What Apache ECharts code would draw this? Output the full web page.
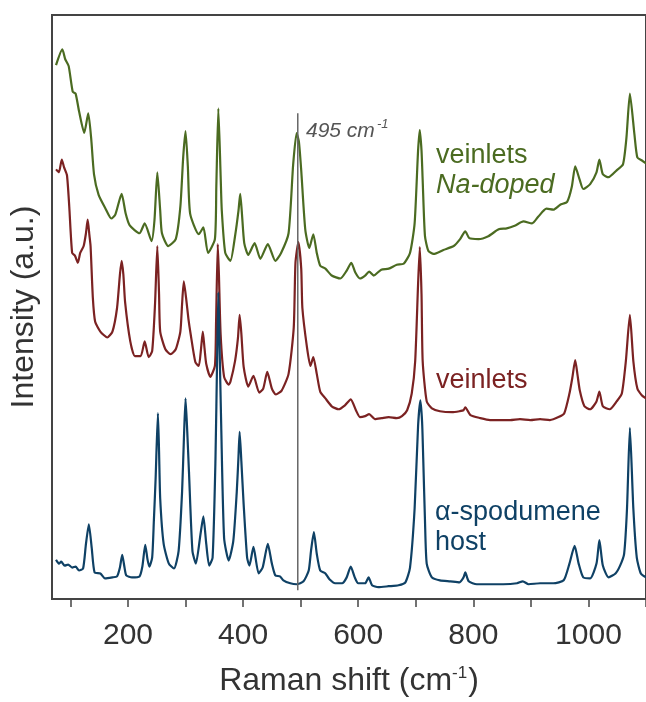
<!DOCTYPE html>
<html>
<head>
<meta charset="utf-8">
<script src="https://cdn.jsdelivr.net/npm/echarts@6/dist/echarts.min.js"></script>
<style>
  html, body { margin: 0; padding: 0; background: #fff; }
  #chart { width: 646px; height: 702px; }
</style>
</head>
<body>
<div id="chart"></div>
<script>
// spectra: [Raman shift (cm-1), offset intensity (a.u.)]
const naDopedSpectrum = [
  [75,543],[86,559],[91,549],[97,542],[104,516],[109,514],[115,496],[124,474],[131,494],[136,469],
  [141,432],[149,411],[161,397],[171,387],[178,391],[189,412],[196,392],[203,380],[220,372],[229,382],
  [241,364],[246,385],[251,434],[256,395],[259,372],[270,359],[283,366],[291,399],[296,450],[300,476],
  [304,440],[308,392],[323,371],[331,378],[339,352],[351,366],[353.5,420],[357,499],[361,430],[363,395],
  [369,352],[378,344],[386,369],[392,395],[395,412],[398,392],[402,362],[409,350],[420,362],[430,346],
  [443,361],[456,344],[466,352],[479,372],[487,442],[493,474],[497,465],[501,436],[508,376],[515,357],
  [522,371],[528,352],[534,339],[543,336],[554,329],[569,326],[580,334],[588,342],[595,332],[603,326],
  [612,329],[619,333],[627,329],[640,335],[653,336],[667,340],[679,341],[690,352],[698,382],[704,456],
  [707,477],[710,456],[712,426],[716,369],[722,354],[731,351],[748,355],[766,359],[777,366],[786,374],
  [793,367],[809,366],[826,369],[844,376],[858,377],[873,380],[887,384],[902,382],[913,389],[927,397],
  [939,396],[951,401],[963,404],[971,419],[977,440],[985,426],[991,417],[1003,422],[1014,434],[1019,447],
  [1025,432],[1035,429],[1049,436],[1060,442],[1066,469],[1072,514],[1080,472],[1085,449],[1093,446],[1100,443]
];

const veinletsSpectrum = [
  [75,437],[80,434],[85,447],[89,439],[94,431],[98,399],[103,352],[108,349],[113,342],[117,352],
  [123,359],[127,372],[130,386],[133,370],[135,359],[139,306],[143,282],[152,272],[164,266],[173,272],
  [181,296],[186,330],[189,344],[192,330],[195,302],[204,262],[212,247],[222,247],[229,262],[236,246],
  [242,252],[247,300],[251,359],[254,310],[256,272],[265,254],[274,249],[283,254],[291,272],[294,300],
  [297,323],[301,306],[305,285],[309,269],[317,241],[323,237],[327,255],[330,272],[333,255],[336,239],
  [343,226],[351,237],[353,280],[356,361],[358,330],[361,269],[367,226],[375,218],[378,221],[386,242],
  [391,265],[394,289],[397,270],[401,236],[409,216],[418,227],[428,210],[435,214],[442,231],[450,214],
  [457,208],[467,212],[479,229],[488,276],[491,342],[496,363],[501,336],[503,296],[511,256],[517,237],
  [522,246],[528,229],[534,211],[543,204],[554,196],[566,193],[577,197],[587,203],[596,192],[603,185],
  [612,186],[619,188],[629,183],[641,184],[653,185],[667,184],[676,186],[685,192],[693,209],[699,242],
  [704,320],[707,358],[710,310],[712,242],[719,201],[728,194],[742,191],[763,190],[776,191],[783,192],
  [786,195],[795,187],[812,184],[829,182],[847,182],[864,182],[881,183],[899,182],[916,183],[933,182],
  [948,185],[958,189],[967,209],[972,225],[977,243],[981,228],[985,212],[993,196],[1003,193],[1014,201],
  [1019,211],[1025,196],[1037,193],[1049,201],[1058,209],[1065,242],[1072,289],[1078,242],[1085,214],
  [1093,207],[1100,204]
];

const hostSpectrum = [
  [75,40],[80,36],[84,38],[90,34],[96,35],[103,32],[109,33],[115,29],[122,31],[127,56],
  [132,76],[137,52],[142,27],[152,26],[160,21],[173,22],[181,23],[186,32],[190,45],[194,32],
  [197,24],[207,22],[220,23],[225,33],[230,55],[234,40],[237,33],[242,42],[245,80],[248,122],
  [252,189],[254,150],[256,102],[262,56],[271,36],[280,31],[288,49],[294,109],[297,160],[300,204],
  [303,170],[306,129],[312,49],[318,36],[326,66],[331,84],[336,56],[341,34],[347,42],[352,142],
  [355,250],[357,312],[359,260],[362,176],[367,62],[375,39],[383,59],[389,109],[392,145],[394,170],
  [397,140],[401,96],[407,42],[411,34],[418,53],[427,26],[434,32],[443,56],[450,36],[456,24],
  [464,23],[470,19],[482,16],[493,15],[505,18],[514,29],[518,49],[523,68],[528,46],[534,29],
  [543,26],[550,20],[560,16],[572,16],[580,22],[587,33],[594,22],[600,16],[612,16],[618,22],
  [624,14],[635,12],[653,13],[670,14],[682,17],[690,32],[698,92],[704,176],[708,202],[711,180],
  [713,142],[716,80],[719,36],[728,22],[742,19],[760,18],[776,17],[783,22],[786,27],[792,18],
  [806,15],[829,15],[852,15],[876,16],[886,18],[896,15],[916,16],[939,16],[957,19],[967,36],
  [976,54],[983,36],[991,22],[1003,21],[1014,36],[1019,60],[1025,34],[1035,22],[1047,26],[1055,34],
  [1062,46],[1067,92],[1072,174],[1078,92],[1084,42],[1091,26],[1100,22]
];

// marker line at 495 cm-1
const markerLine = [[495, 9], [495, 494]];

const tickValues = [100, 200, 300, 400, 500, 600, 700, 800, 900, 1000, 1100];
const labelValues = [200, 400, 600, 800, 1000];

const FONT = '"Liberation Sans", Arial, sans-serif';
const GREEN = '#4b6b21';
const RED = '#7b2222';
const BLUE = '#0f4165';

const chart = echarts.init(document.getElementById('chart'));

function spectrum(name, data, color) {
  return {
    name: name,
    type: 'line',
    data: data,
    symbol: 'none',
    smooth: 0.2,
    lineStyle: { color: color, width: 2.2 },
    animation: false
  };
}

const option = {
  animation: false,
  textStyle: { fontFamily: FONT },
  grid: {
    show: true,
    borderColor: '#444',
    borderWidth: 2,
    left: 52,
    right: 0,
    top: 15,
    bottom: 93
  },
  xAxis: {
    type: 'value',
    min: 68,
    max: 1100,
    name: 'Raman shift (cm{sup|-1})',
    nameLocation: 'middle',
    nameGap: 66,
    nameTextStyle: {
      fontSize: 32, color: '#333', fontFamily: FONT,
      rich: {
        sup: { fontSize: 17, color: '#333', fontFamily: FONT, verticalAlign: 'top', padding: [0, 1, 14, 0] }
      }
    },
    axisLine: { show: true, lineStyle: { color: '#444', width: 2 } },
    axisTick: {
      show: true,
      length: 8,
      customValues: tickValues,
      lineStyle: { color: '#444', width: 1.5 }
    },
    axisLabel: {
      customValues: labelValues,
      formatter: function (v) { return String(v) },
      fontSize: 30,
      color: '#333',
      margin: 22,
      fontFamily: FONT
    },
    splitLine: { show: false }
  },
  yAxis: {
    type: 'value',
    min: 0,
    max: 594,
    name: 'Intensity (a.u.)',
    nameLocation: 'middle',
    nameGap: 12,
    nameTextStyle: { fontSize: 32, color: '#333', fontFamily: FONT },
    axisLine: { show: true, lineStyle: { color: '#444', width: 2 } },
    axisTick: { show: false },
    axisLabel: { show: false },
    splitLine: { show: false }
  },
  series: [
    spectrum('veinlets Na-doped', naDopedSpectrum, GREEN),
    spectrum('veinlets', veinletsSpectrum, RED),
    spectrum('α-spodumene host', hostSpectrum, BLUE),
    {
      name: '495',
      type: 'line',
      data: markerLine,
      symbol: 'none',
      lineStyle: { color: '#666', width: 1.5 },
      animation: false
    }
  ],
  graphic: [
    { type: 'text', left: 306, top: 121, style: { text: '495 cm', fontSize: 21, fontStyle: 'italic', fill: '#555', fontFamily: FONT } },
    { type: 'text', left: 377, top: 118, style: { text: '-1', fontSize: 13, fontStyle: 'italic', fill: '#555', fontFamily: FONT } },
    { type: 'text', left: 436, top: 142, style: { text: 'veinlets', fontSize: 27, fill: GREEN, fontFamily: FONT } },
    { type: 'text', left: 436, top: 172, style: { text: 'Na-doped', fontSize: 27, fontStyle: 'italic', fill: GREEN, fontFamily: FONT } },
    { type: 'text', left: 436, top: 367, style: { text: 'veinlets', fontSize: 27, fill: RED, fontFamily: FONT } },
    { type: 'text', left: 435, top: 499, style: { text: 'α-spodumene', fontSize: 27, fill: BLUE, fontFamily: FONT } },
    { type: 'text', left: 435, top: 529, style: { text: 'host', fontSize: 27, fill: BLUE, fontFamily: FONT } }
  ]
};

chart.setOption(option);
</script>
</body>
</html>
